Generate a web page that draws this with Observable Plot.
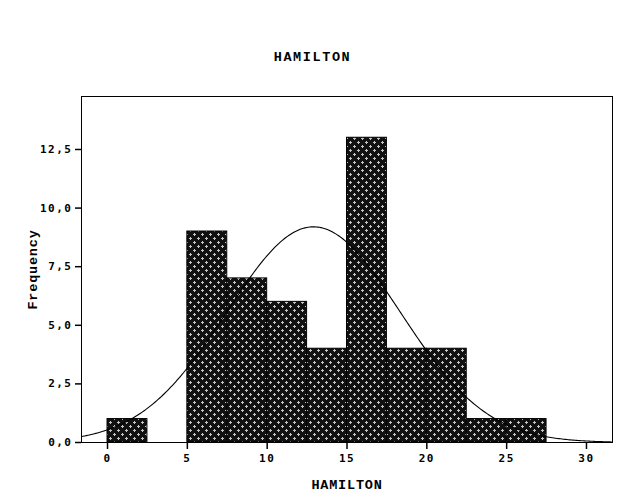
<!DOCTYPE html>
<html>
<head>
<meta charset="utf-8">
<script src="https://cdn.jsdelivr.net/npm/d3@7"></script>
<script src="https://cdn.jsdelivr.net/npm/@observablehq/plot@0.6"></script>
<style>
  html, body { margin: 0; padding: 0; background: #fff; }
  #title { height: 80px; width: 625px; position: relative; }
  #title span { position: absolute; left: 0; width: 625px; top: 50px; text-align: center;
    font-family: "Liberation Mono", monospace; font-weight: bold; font-size: 13.5px; letter-spacing: 1.6px; }
</style>
</head>
<body>
<div id="title"><span>HAMILTON</span></div>
<div id="chart"></div>
<script>
// Histogram bins (width 2.5) and counts
const binStarts = [0, 5, 7.5, 10, 12.5, 15, 17.5, 20, 22.5, 25];
const binWidth = 2.5;
const counts = [1, 9, 7, 6, 4, 13, 4, 4, 1, 1];
const xTicks = [0, 5, 10, 15, 20, 25, 30];
const yTicks = [0, 2.5, 5, 7.5, 10, 12.5];
// Fitted normal curve parameters
const mean = 12.9;
const stdDev = 5.42;
const N = 50;

const bins = binStarts.map((s, i) => ({x0: s, x1: s + binWidth, count: counts[i]}));
const xDomain = [-1.63, 31.63];
const curve = d3.range(xDomain[0], xDomain[1] + 0.001, 0.1).map(x => ({
  x,
  y: N * binWidth / (stdDev * Math.sqrt(2 * Math.PI)) * Math.exp(-((x - mean) ** 2) / (2 * stdDev * stdDev))
}));
const fmt = d => d.toFixed(1).replace(".", ",");

const plot = Plot.plot({
  width: 625,
  height: 420,
  marginLeft: 81,
  marginRight: 13,
  marginTop: 16,
  marginBottom: 58,
  style: {fontFamily: "'DejaVu Sans Mono', monospace", fontWeight: "bold", fontSize: "11px", color: "black", background: "white"},
  x: {domain: xDomain},
  y: {domain: [0, 14.76]},
  marks: [
    Plot.rectY(bins, {x1: "x0", x2: "x1", y: "count", fill: "url(#crossPat)", stroke: "black", strokeWidth: 1}),
    Plot.line(curve, {x: "x", y: "y", stroke: "black", strokeWidth: 1.1}),
    Plot.frame({stroke: "black", strokeWidth: 1}),
    Plot.axisX({ticks: xTicks, tickSize: 7, tickPadding: 5, tickFormat: d => String(d),
      label: "HAMILTON", labelAnchor: "center", labelOffset: 46, labelArrow: "none", stroke: "black", strokeWidth: 1.5}),
    Plot.axisY({ticks: yTicks, tickSize: 6, tickPadding: 3, tickFormat: fmt,
      label: "Frequency", labelAnchor: "center", labelOffset: 54, labelArrow: "none", stroke: "black", strokeWidth: 1.5})
  ]
});

// Pattern: dark fill with light plus signs
const svg = d3.select(plot);
const defs = svg.insert("defs", ":first-child");
const pat = defs.append("pattern").attr("id", "crossPat").attr("patternUnits", "userSpaceOnUse")
  .attr("width", 8).attr("height", 8);
pat.append("rect").attr("width", 8).attr("height", 8).attr("fill", "#111").attr("shape-rendering", "crispEdges");
for (const [cx, cy] of [[2, 2], [6, 6]]) {
  pat.append("rect").attr("x", cx - 1).attr("y", cy).attr("width", 3).attr("height", 1).attr("fill", "#c4c4c4").attr("shape-rendering", "crispEdges");
  pat.append("rect").attr("x", cx).attr("y", cy - 1).attr("width", 1).attr("height", 3).attr("fill", "#c4c4c4").attr("shape-rendering", "crispEdges");
}
svg.selectAll("g[aria-label='x-axis tick label'] text, g[aria-label='y-axis tick label'] text")
  .style("letter-spacing", "1.5px");
svg.selectAll("g[aria-label='x-axis label'] text, g[aria-label='y-axis label'] text")
  .style("font-family", "'Liberation Mono', monospace").style("font-size", "13.5px").style("letter-spacing", "0.8px");
document.getElementById("chart").appendChild(plot);
</script>
</body>
</html>
